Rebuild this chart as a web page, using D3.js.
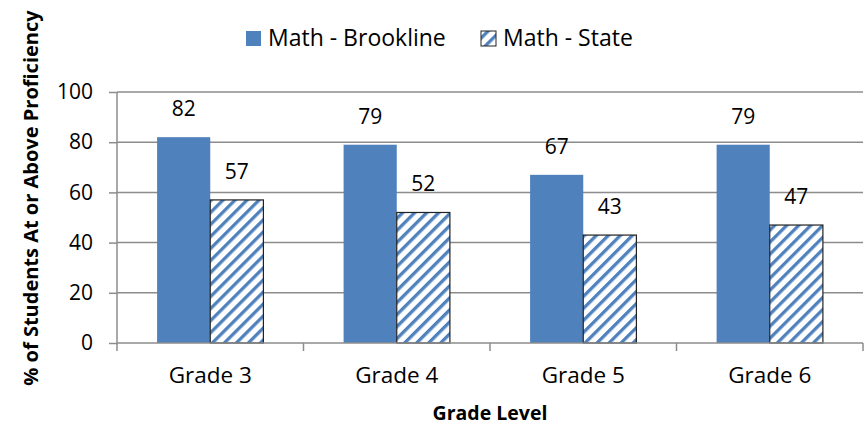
<!DOCTYPE html>
<html><head><meta charset="utf-8">
<script src="https://cdn.jsdelivr.net/npm/d3@7"></script>
<style>body{margin:0;background:#fff;}svg{display:block;font-family:"Open Sans",sans-serif;}</style>
</head><body><svg id="c" width="867" height="428"></svg>
<script>
const categories = ["Grade 3","Grade 4","Grade 5","Grade 6"];
const brookline = [82,79,67,79];
const state = [57,52,43,47];
const yTicks = [0,20,40,60,80,100];
const seriesNames = ["Math - Brookline","Math - State"];

const svg = d3.select("#c");
const blue = "#4F81BD";
const L=117, R=863, T=92, B=343;
const defs = svg.append("defs");
const pat = defs.append("pattern").attr("id","hatch").attr("patternUnits","userSpaceOnUse")
  .attr("width",8.5).attr("height",8.5).attr("patternTransform","rotate(45)");
pat.append("rect").attr("width",8.5).attr("height",8.5).attr("fill","#fff");
pat.append("rect").attr("x",0).attr("width",3.3).attr("height",8.5).attr("fill",blue);

const x = d3.scaleBand().domain(categories).range([L,R]).paddingInner(0.43).paddingOuter(0.215);
const y = d3.scaleLinear().domain([0,100]).range([B,T]);

// gridlines
svg.append("g").selectAll("line").data(yTicks.filter(d=>d>0)).join("line")
  .attr("x1",L).attr("x2",R).attr("y1",d=>y(d)).attr("y2",d=>y(d))
  .attr("stroke","#8c8c8c").attr("stroke-width",1.5);

const bw = x.bandwidth()/2;
const g = svg.append("g");
g.selectAll(".b").data(categories).join("rect")
  .attr("x",d=>x(d)).attr("y",(d,i)=>y(brookline[i])).attr("width",bw)
  .attr("height",(d,i)=>B-y(brookline[i])).attr("fill",blue);
g.selectAll(".s").data(categories).join("rect")
  .attr("x",d=>x(d)+bw).attr("y",(d,i)=>y(state[i])).attr("width",bw)
  .attr("height",(d,i)=>B-y(state[i])).attr("fill","url(#hatch)")
  .attr("stroke","#222").attr("stroke-width",1.2);

// labels
const lab = svg.append("g").attr("font-size",21).attr("fill","#000").attr("text-anchor","middle");
lab.selectAll(".lb").data(categories).join("text")
  .attr("x",d=>x(d)+bw/2).attr("y",(d,i)=>y(brookline[i])-21).text((d,i)=>brookline[i]);
lab.selectAll(".ls").data(categories).join("text")
  .attr("x",d=>x(d)+bw*1.5).attr("y",(d,i)=>y(state[i])-21).text((d,i)=>state[i]);

// y axis
const ya = svg.append("g").attr("transform",`translate(${L},0)`)
  .call(d3.axisLeft(y).tickValues(yTicks).tickSize(8).tickPadding(16));
ya.select(".domain").attr("stroke","#8c8c8c").attr("stroke-width",1.5).attr("d",`M-0,${T}V${B}`);
ya.selectAll(".tick line").attr("stroke","#8c8c8c").attr("stroke-width",1.5);
ya.selectAll(".tick text").attr("font-size",21).attr("fill","#000").attr("font-family","Open Sans");

// x axis
const xa = svg.append("g").attr("transform",`translate(0,${B})`)
  .call(d3.axisBottom(x).tickSize(0).tickPadding(24));
xa.select(".domain").attr("stroke","#8c8c8c").attr("stroke-width",1.5).attr("d",`M${L},0H${R}`);
xa.selectAll(".tick text").attr("font-size",22.5).attr("fill","#000").attr("font-family","Open Sans");
const bounds = d3.range(categories.length+1).map(i=>L+i*(R-L)/categories.length);
xa.selectAll(".bt").data(bounds).join("line").attr("x1",d=>d).attr("x2",d=>d).attr("y1",0).attr("y2",8)
  .attr("stroke","#8c8c8c").attr("stroke-width",1.5);

// titles
svg.append("text").attr("transform","translate(38,198) rotate(-90)").attr("text-anchor","middle")
  .attr("font-size",20).attr("font-weight","bold").text("% of Students At or Above Proficiency");
svg.append("text").attr("x",490).attr("y",420).attr("text-anchor","middle")
  .attr("font-size",19.5).attr("font-weight","bold").text("Grade Level");

// legend
const leg = svg.append("g").attr("font-size",23);
const lx = [246,481];
leg.selectAll("rect").data(seriesNames).join("rect")
  .attr("x",(d,i)=>lx[i]).attr("y",31).attr("width",15).attr("height",15)
  .attr("fill",(d,i)=>i===0?blue:"url(#hatch)").attr("stroke",(d,i)=>i===0?"none":"#222");
leg.selectAll("text").data(seriesNames).join("text")
  .attr("x",(d,i)=>lx[i]+22).attr("y",46).text(d=>d);
</script></body></html>
